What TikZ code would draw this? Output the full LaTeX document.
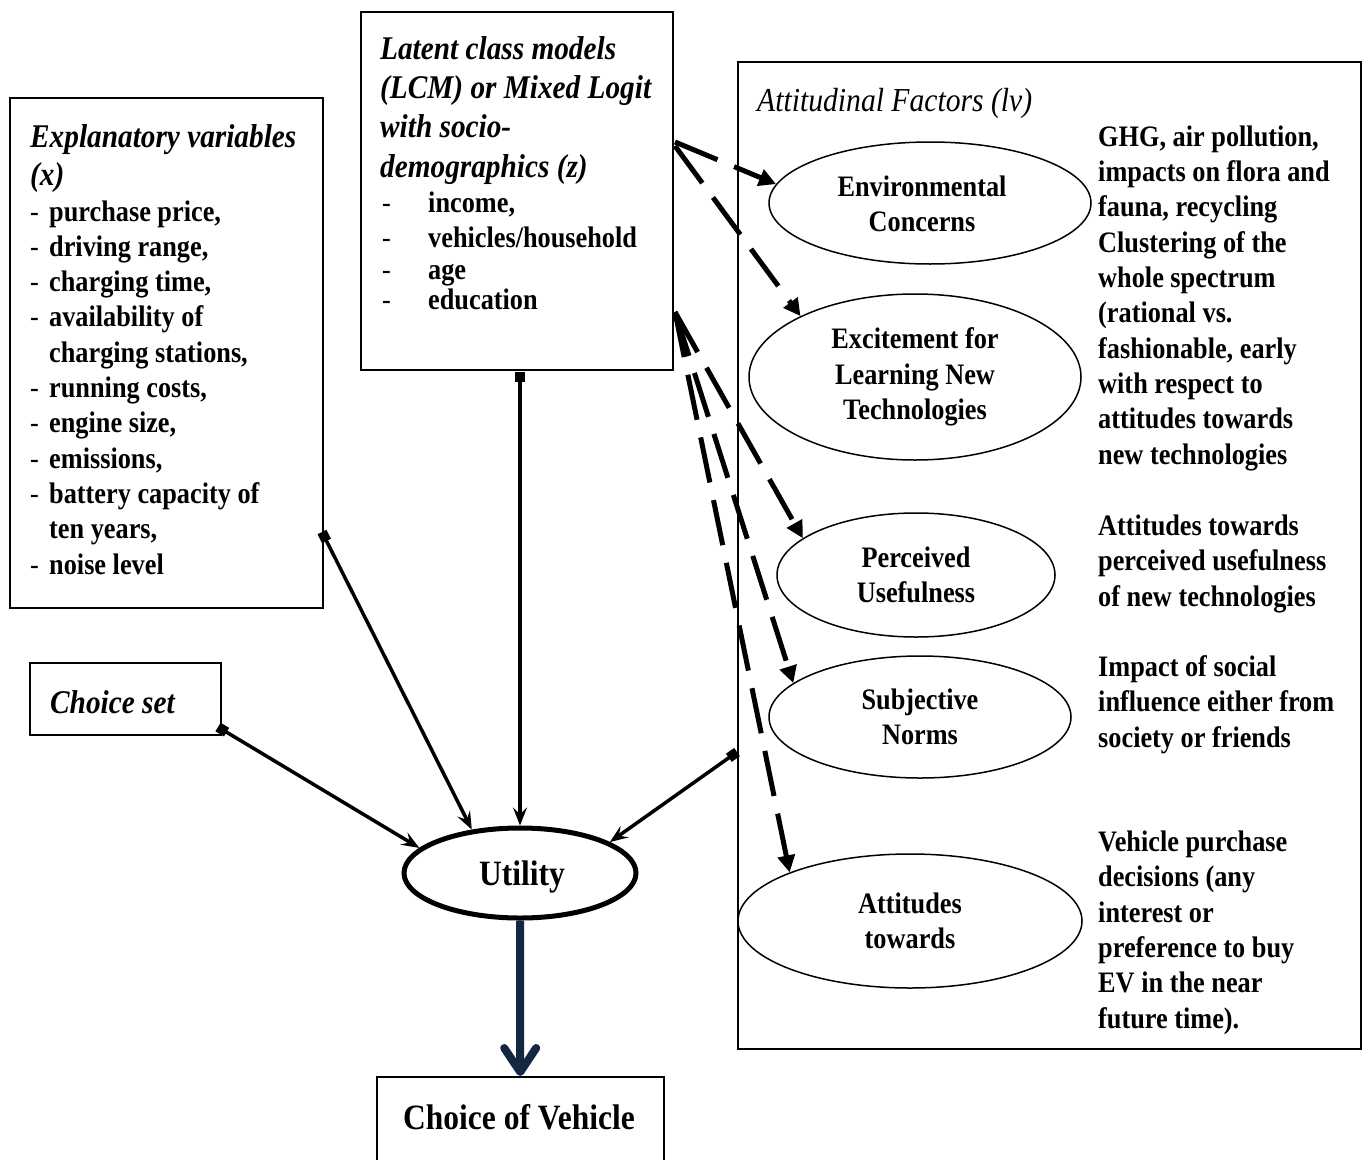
\documentclass[tikz,border=0pt]{standalone}
\usepackage{fontspec}
\setmainfont{Liberation Serif}[FakeStretch=0.885]
\usetikzlibrary{arrows.meta,shapes.geometric}
\definecolor{navyblue}{RGB}{19,39,66}
\newcommand\mybody{\fontsize{29.7}{35.3}\selectfont\bfseries}
\newcommand\myhead{\fontsize{33.1}{39.3}\selectfont\bfseries\itshape}
\newcommand\myheadx{\fontsize{33.1}{38}\selectfont\bfseries\itshape}
\newcommand\myheadlite{\fontsize{33.5}{39.3}\selectfont\itshape}
\newcommand\mybig{\fontsize{35.6}{40}\selectfont\bfseries}
\newcommand\dsh{\makebox[19pt][l]{\mdseries -}}
\newcommand\ind{\hspace*{19pt}}
\begin{document}
\begin{tikzpicture}[x=1pt,y=-1pt,
  box/.style={draw, line width=1.5pt, inner sep=0pt, anchor=north west},
  ell/.style={ellipse, draw, line width=1.5pt, inner sep=0pt, align=center, font=\mybody},
  txt/.style={anchor=base west, align=left, inner sep=0pt},
  sarrow/.style={line width=3.5pt, {Square[length=10pt,width=10pt]}-{Stealth[length=18pt,width=14pt,inset=7pt]}},
  darrow/.style={line width=5pt, dash pattern=on 46pt off 18pt, -{Triangle[length=17pt,width=17pt]}},
  navyarrow/.style={draw=navyblue, line width=8pt, -{Straight Barb[length=24pt,width=32pt,round]}}
]
\useasboundingbox (0,0) rectangle (1365,1159);

% boxes
\node[box, minimum width=313pt, minimum height=510pt] (expl) at (9,97) {};
\node[box, minimum width=312pt, minimum height=358pt] (lcm) at (360,11) {};
\node[box, minimum width=191pt, minimum height=72pt] (cs) at (29,662) {};
\node[box, minimum width=623pt, minimum height=987pt] (att) at (737,61) {};
\node[box, minimum width=287pt, minimum height=90pt] (cov) at (376,1076) {};
\node[font=\mybig, inner sep=0pt, anchor=base] (covt) at (519,1129) {Choice of Vehicle};

% ellipses
\node[ell, minimum width=322pt, minimum height=122pt] (env) at (930,203) {};
\node[font=\mybody, align=center, inner sep=0pt] (envt) at (922,204) {Environmental\\Concerns};
\node[ell, minimum width=332pt, minimum height=166pt] (exc) at (915,377) {Excitement for\\Learning New\\Technologies};
\node[ell, minimum width=278pt, minimum height=124pt] (pu) at (916,575) {Perceived\\Usefulness};
\node[ell, minimum width=302pt, minimum height=122pt] (sn) at (920,717) {Subjective\\Norms};
\node[ell, minimum width=344pt, minimum height=134pt] (at) at (910,921) {Attitudes\\towards};
\node[ellipse, draw, line width=5pt, inner sep=0pt, minimum width=232pt, minimum height=90pt] (util) at (520,873) {};
\node[font=\mybig, inner sep=0pt, anchor=base] (utilt) at (522,885) {Utility};

% texts (anchored at the baseline of their last line)
\node[txt, font=\myheadx] (exh) at (30,185) {Explanatory variables\\(x)};
\node[txt, font=\mybody] (exl) at (30,574) {\dsh purchase price,\\\dsh driving range,\\\dsh charging time,\\\dsh availability of\\\ind charging stations,\\\dsh running costs,\\\dsh engine size,\\\dsh emissions,\\\dsh battery capacity of\\\ind ten years,\\\dsh noise level};
\node[txt, font=\myhead] (lch) at (380,177) {Latent class models\\(LCM) or Mixed Logit\\with socio-\\demographics (z)};
\node[txt, font=\mybody] (li1) at (382,212) {\makebox[46pt][l]{\mdseries -}income,};
\node[txt, font=\mybody] (li2) at (382,247) {\makebox[46pt][l]{\mdseries -}vehicles/household};
\node[txt, font=\mybody] (li3) at (382,279) {\makebox[46pt][l]{\mdseries -}age};
\node[txt, font=\mybody] (li4) at (382,309) {\makebox[46pt][l]{\mdseries -}education};
\node[txt, font=\myhead] (cst) at (50,713) {Choice set};
\node[txt, font=\myheadlite] (atth) at (757,111) {Attitudinal Factors (lv)};
\node[txt, font=\mybody] (r1) at (1098,464) {GHG, air pollution,\\impacts on flora and\\fauna, recycling\\Clustering of the\\whole spectrum\\(rational vs.\\fashionable, early\\with respect to\\attitudes towards\\new technologies};
\node[txt, font=\mybody] (r2) at (1098,606) {Attitudes towards\\perceived usefulness\\of new technologies};
\node[txt, font=\mybody] (r3) at (1098,747) {Impact of social\\influence either from\\society or friends};
\node[txt, font=\mybody] (r4) at (1098,1028) {Vehicle purchase\\decisions (any\\interest or\\preference to buy\\EV in the near\\future time).};

% connector start points
\coordinate (exs) at (322,532);
\coordinate (lcms) at (520,372);
\coordinate (css) at (218,727);
\coordinate (ats) at (737,752);
\coordinate (d1s) at (675,142);
\coordinate (d2s) at (675,146);
\coordinate (d3s) at (675,312);

% solid connectors
\draw[sarrow] (exs) -- (util.138);
\draw[sarrow] (lcms) -- (util.north);
\draw[sarrow] (css) -- (util.166);
\draw[sarrow] (ats) -- (util.19);
\draw[navyarrow] (util.south) -- (cov.north);

% dashed connectors
\draw[darrow] (d1s) -- (env.173);
\draw[darrow] (d2s) -- (exc.152);
\draw[darrow] (d3s) -- (pu.162);
\draw[darrow] (d3s) -- (sn.165);
\draw[darrow] (d3s) -- (at.158);
\end{tikzpicture}
\end{document}
